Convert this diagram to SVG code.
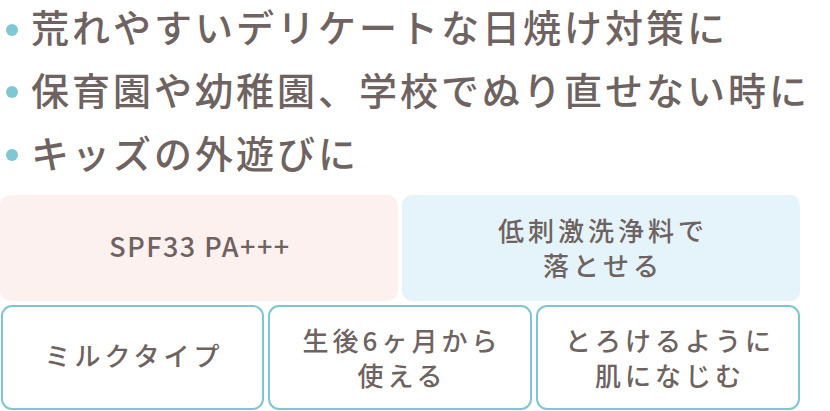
<svg xmlns="http://www.w3.org/2000/svg" width="830" height="411" viewBox="0 0 830 411">
<style>
.t{font-family:"Noto Sans CJK JP","Noto Sans",sans-serif;fill:#6e6360;font-weight:500}
.h{font-size:38px;letter-spacing:3px}
.b{font-size:26px;text-anchor:middle;letter-spacing:4px}
.l{font-size:27px;letter-spacing:1.5px}
.dot{fill:#7fc8d3}
.box{fill:#fff;stroke:#7fc6cf;stroke-width:2}
</style>
<rect width="830" height="411" fill="#fff"/>
<g id="bullets">
<circle class="dot" cx="12" cy="30" r="6"/>
<text class="t h" x="31" y="42">荒れやすいデリケートな日焼け対策に</text>
<circle class="dot" cx="12" cy="92" r="6"/>
<text class="t h" x="31" y="105">保育園や幼稚園、学校でぬり直せない時に</text>
<circle class="dot" cx="12" cy="155" r="6"/>
<text class="t h" x="31" y="168">キッズの外遊びに</text>
</g>
<g id="n1"><rect x="0" y="195" width="398" height="106" rx="10" fill="#fdf1f0"/><text class="t b l" x="200" y="257">SPF33 PA+++</text></g>
<g id="n2"><rect x="402" y="195" width="398" height="106" rx="10" fill="#e5f3fa"/><text class="t b" x="603" y="241">低刺激洗浄料で</text><text class="t b" x="603" y="276">落とせる</text></g>
<g id="n3"><rect class="box" x="2" y="306" width="261" height="103" rx="10"/><text class="t b" x="134" y="366">ミルクタイプ</text></g>
<g id="n4"><rect class="box" x="269" y="306" width="262" height="103" rx="10"/><text class="t b" x="402" y="351">生後6ヶ月から</text><text class="t b" x="402" y="386">使える</text></g>
<g id="n5"><rect class="box" x="537" y="306" width="262" height="103" rx="10"/><text class="t b" x="670" y="351">とろけるように</text><text class="t b" x="670" y="386">肌になじむ</text></g>
<g id="connectors"/>
</svg>
